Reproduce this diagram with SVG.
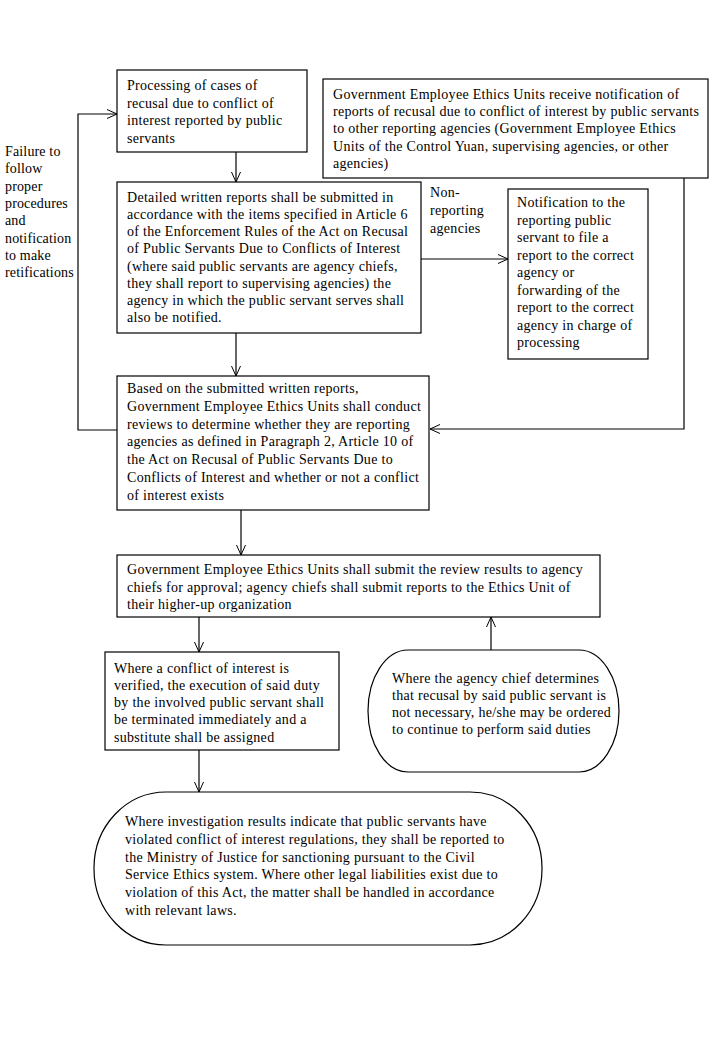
<svg xmlns="http://www.w3.org/2000/svg" width="720" height="1040" viewBox="0 0 720 1040">
<defs>
<marker id="arr" markerUnits="userSpaceOnUse" markerWidth="12" markerHeight="12" refX="10" refY="5" orient="auto">
<path d="M0,0.5 L10,5 L0,9.5" fill="none" stroke="#000" stroke-width="1"/>
</marker>
<style>
.b{fill:#fff;stroke:#000;stroke-width:1.2}
.t{font-family:"Liberation Serif","Times New Roman",serif;font-size:14px;letter-spacing:0.3px;fill:#000}
.l{letter-spacing:0.15px}
.c{fill:none;stroke:#000;stroke-width:1.2}
</style>
</defs>
<rect width="720" height="1040" fill="#fff"/>
<g id="connectors">
<path class="c" d="M236,151 V182" marker-end="url(#arr)"/>
<path class="c" d="M236,333 V376" marker-end="url(#arr)"/>
<path class="c" d="M421,259 H508" marker-end="url(#arr)"/>
<path class="c" d="M117,430 H78 V114 H117" marker-end="url(#arr)"/>
<path class="c" d="M684,178 V429 H430" marker-end="url(#arr)"/>
<path class="c" d="M241,510 V555" marker-end="url(#arr)"/>
<path class="c" d="M199,617 V652" marker-end="url(#arr)"/>
<path class="c" d="M491,650 V617" marker-end="url(#arr)"/>
<path class="c" d="M199,750 V792" marker-end="url(#arr)"/>
</g>
<g id="label-failure" class="t l">
<text x="5" y="156">Failure to</text>
<text x="5" y="173.3">follow</text>
<text x="5" y="190.6">proper</text>
<text x="5" y="207.9">procedures</text>
<text x="5" y="225.2">and</text>
<text x="5" y="242.5">notification</text>
<text x="5" y="259.8">to make</text>
<text x="5" y="277.1">retifications</text>
</g>
<g id="label-nonreporting" class="t">
<text x="430" y="197">Non-</text>
<text x="430" y="215">reporting</text>
<text x="430" y="232.5">agencies</text>
</g>
<g id="n1">
<rect class="b" x="117" y="70" width="190" height="82"/>
<text class="t" x="127" y="90">Processing of cases of</text>
<text class="t" x="127" y="107.7">recusal due to conflict of</text>
<text class="t" x="127" y="125.3">interest reported by public</text>
<text class="t" x="127" y="143">servants</text>
</g>
<g id="n2">
<rect class="b" x="323" y="79" width="385" height="99"/>
<text class="t" x="333" y="99">Government Employee Ethics Units receive notification of</text>
<text class="t" x="333" y="116.2">reports of recusal due to conflict of interest by public servants</text>
<text class="t" x="333" y="133.4">to other reporting agencies (Government Employee Ethics</text>
<text class="t" x="333" y="150.6">Units of the Control Yuan, supervising agencies, or other</text>
<text class="t" x="333" y="167.8">agencies)</text>
</g>
<g id="n3">
<rect class="b" x="117" y="182" width="304" height="151"/>
<text class="t" x="127" y="202">Detailed written reports shall be submitted in</text>
<text class="t" x="127" y="219.1">accordance with the items specified in Article 6</text>
<text class="t" x="127" y="236.3">of the Enforcement Rules of the Act on Recusal</text>
<text class="t" x="127" y="253.4">of Public Servants Due to Conflicts of Interest</text>
<text class="t" x="127" y="270.6">(where said public servants are agency chiefs,</text>
<text class="t" x="127" y="287.7">they shall report to supervising agencies) the</text>
<text class="t" x="127" y="304.9">agency in which the public servant serves shall</text>
<text class="t" x="127" y="322">also be notified.</text>
</g>
<g id="n5">
<rect class="b" x="508" y="189" width="140" height="170"/>
<text class="t" x="517" y="207">Notification to the</text>
<text class="t" x="517" y="224.5">reporting public</text>
<text class="t" x="517" y="242">servant to file a</text>
<text class="t" x="517" y="259.5">report to the correct</text>
<text class="t" x="517" y="277">agency or</text>
<text class="t" x="517" y="294.5">forwarding of the</text>
<text class="t" x="517" y="312">report to the correct</text>
<text class="t" x="517" y="329.5">agency in charge of</text>
<text class="t" x="517" y="347">processing</text>
</g>
<g id="n4">
<rect class="b" x="117" y="376" width="312" height="134"/>
<text class="t" x="127" y="393">Based on the submitted written reports,</text>
<text class="t" x="127" y="410.8">Government Employee Ethics Units shall conduct</text>
<text class="t" x="127" y="428.6">reviews to determine whether they are reporting</text>
<text class="t" x="127" y="446.4">agencies as defined in Paragraph 2, Article 10 of</text>
<text class="t" x="127" y="464.2">the Act on Recusal of Public Servants Due to</text>
<text class="t" x="127" y="482">Conflicts of Interest and whether or not a conflict</text>
<text class="t" x="127" y="499.8">of interest exists</text>
</g>
<g id="n6">
<rect class="b" x="117" y="555" width="483" height="62"/>
<text class="t" x="127" y="574">Government Employee Ethics Units shall submit the review results to agency</text>
<text class="t" x="127" y="591.5">chiefs for approval; agency chiefs shall submit reports to the Ethics Unit of</text>
<text class="t" x="127" y="609">their higher-up organization</text>
</g>
<g id="n7">
<rect class="b" x="105" y="652" width="234" height="98"/>
<text class="t" x="114" y="672.5">Where a conflict of interest is</text>
<text class="t" x="114" y="689.8">verified, the execution of said duty</text>
<text class="t" x="114" y="707">by the involved public servant shall</text>
<text class="t" x="114" y="724.3">be terminated immediately and a</text>
<text class="t" x="114" y="741.5">substitute shall be assigned</text>
</g>
<g id="n8">
<rect class="b" x="368" y="650" width="251" height="122" rx="40" ry="61"/>
<text class="t" x="392" y="683">Where the agency chief determines</text>
<text class="t" x="392" y="700">that recusal by said public servant is</text>
<text class="t" x="392" y="717">not necessary, he/she may be ordered</text>
<text class="t" x="392" y="734">to continue to perform said duties</text>
</g>
<g id="n9">
<rect class="b" x="94" y="792" width="448" height="153" rx="72" ry="76"/>
<text class="t" x="125" y="826">Where investigation results indicate that public servants have</text>
<text class="t" x="125" y="843.8">violated conflict of interest regulations, they shall be reported to</text>
<text class="t" x="125" y="861.6">the Ministry of Justice for sanctioning pursuant to the Civil</text>
<text class="t" x="125" y="879.4">Service Ethics system. Where other legal liabilities exist due to</text>
<text class="t" x="125" y="897.2">violation of this Act, the matter shall be handled in accordance</text>
<text class="t" x="125" y="915">with relevant laws.</text>
</g>
</svg>
